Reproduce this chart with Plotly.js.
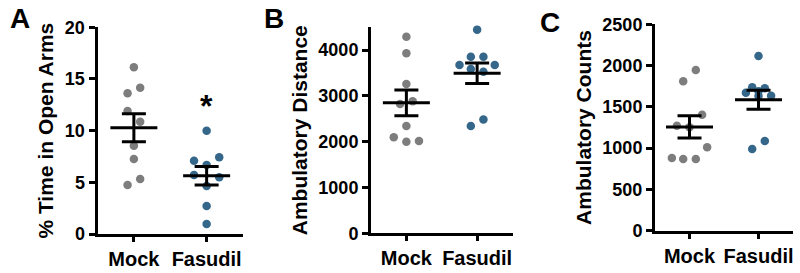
<!DOCTYPE html>
<html>
<head>
<meta charset="utf-8">
<script src="https://cdn.plot.ly/plotly-3.0.1.min.js"></script>
<style>html,body{margin:0;padding:0;background:#fff;}#chart{width:800px;height:273px;}</style>
</head>
<body>
<div id="chart"></div>
<script>
// ---------- data ----------
const groups = ['Mock', 'Fasudil'];

// Panel A: % Time in Open Arms
const openArmsMock    = [16.13, 14.16, 13.61, 11.90, 10.87, 8.54, 7.26, 5.32, 4.74];
const openArmsFasudil = [10.00, 7.42, 7.09, 6.68, 5.71, 5.49, 4.64, 2.71, 0.97];
// Panel B: Ambulatory Distance
const distanceMock    = [4293, 3930, 3260, 2823, 2882, 2343, 2096, 2000, 2015];
const distanceFasudil = [4447, 3856, 3856, 3675, 3675, 3587, 3528, 2486, 2342];
// Panel C: Ambulatory Counts
const countsMock      = [1946, 1810, 1405, 1272, 1252, 1010, 881, 868, 868];
const countsFasudil   = [2116, 1737, 1725, 1690, 1672, 1635, 1632, 1087, 990];

// horizontal scatter column of each dot (in dot-width steps), as in the picture
const openArmsMockCols    = [0, 1, -1, -1, 1, 0, 0, 1, -1];
const openArmsFasudilCols = [0, 2, -2, 0, -2, 2, 0, 0, 0];
const distanceMockCols    = [0, 0, 0, -1, 1, 0, -2, 0, 2];
const distanceFasudilCols = [0, -1, 1, -2.8, 2.8, -1, 1, 1, -1];
const countsMockCols      = [1, -1, 2, -2, 0, 2.8, -2.8, -1, 1];
const countsFasudilCols   = [0, -1, 1, 0, -2, 2, 0, 1, -1];

const yTitles = ['% Time in Open Arms', 'Ambulatory Distance', 'Ambulatory Counts'];
const panelLetters = ['A', 'B', 'C'];
const yTicksA = [0, 5, 10, 15, 20];
const yTicksB = [0, 1000, 2000, 3000, 4000];
const yTicksC = [0, 500, 1000, 1500, 2000, 2500];

// ---------- styling / layout ----------
const W = 800, H = 273;
const FONT = 'Liberation Sans, Arial, sans-serif';
const GREY = '#7d7d7d', BLUE = '#35678b';
const STEP_PX = 6.3, MEAN_HALF_PX = 23.5, CAP_HALF_PX = 12;

const panels = [
  {mock: openArmsMock, fas: openArmsFasudil, mc: openArmsMockCols, fc: openArmsFasudilCols,
   xd: [97.5, 243], yd: [234, 27.3], yr: [0, 20], ticks: yTicksA},
  {mock: distanceMock, fas: distanceFasudil, mc: distanceMockCols, fc: distanceFasudilCols,
   xd: [371, 512.5], yd: [233.3, 27.2], yr: [0, 4500], ticks: yTicksB},
  {mock: countsMock, fas: countsFasudil, mc: countsMockCols, fc: countsFasudilCols,
   xd: [655, 793], yd: [230.7, 24.3], yr: [0, 2500], ticks: yTicksC}
];
const XR = [-0.5, 1.5];

function mean(a){ return a.reduce((s,v)=>s+v,0)/a.length; }
function sem(a){ const m = mean(a); const v = a.reduce((s,x)=>s+(x-m)*(x-m),0)/(a.length-1); return Math.sqrt(v/a.length); }

const traces = [];
const layout = {
  width: W, height: H, margin: {l:0, r:0, t:0, b:0},
  paper_bgcolor: '#fff', plot_bgcolor: '#fff', showlegend: false,
  font: {family: FONT, color: '#000', weight: 'bold'},
  annotations: []
};

panels.forEach((p, i) => {
  const n = i === 0 ? '' : String(i + 1);
  const xa = 'x' + n, ya = 'y' + n;
  const pxPerUnit = (p.xd[1] - p.xd[0]) / (XR[1] - XR[0]);
  const stepU = STEP_PX / pxPerUnit;
  [[p.mock, p.mc, GREY, 0], [p.fas, p.fc, BLUE, 1]].forEach(([vals, cols, color, gi]) => {
    traces.push({
      type: 'scatter', mode: 'markers', xaxis: xa, yaxis: ya,
      x: vals.map((v, k) => gi + cols[k] * stepU), y: vals,
      marker: {color: color, size: 8.5, line: {width: 0}}, hoverinfo: 'y', cliponaxis: false
    });
  });
  [p.mock, p.fas].forEach((vals, gi) => {
    const m = mean(vals), s = sem(vals);
    const mh = MEAN_HALF_PX / pxPerUnit, ch = CAP_HALF_PX / pxPerUnit;
    traces.push({
      type: 'scatter', mode: 'lines', xaxis: xa, yaxis: ya,
      x: [gi - mh, gi + mh, null, gi, gi, null, gi - ch, gi + ch, null, gi - ch, gi + ch],
      y: [m, m, null, m - s, m + s, null, m + s, m + s, null, m - s, m - s],
      line: {color: '#000', width: 3}, hoverinfo: 'skip', cliponaxis: false
    });
  });
  layout['xaxis' + n] = {
    domain: [p.xd[0] / W, p.xd[1] / W], range: XR, anchor: ya,
    showgrid: false, zeroline: false, showline: true, linecolor: '#000', linewidth: 3,
    tickmode: 'array', tickvals: [0, 1], ticktext: groups,
    ticks: 'outside', ticklen: 5, tickwidth: 3, tickcolor: '#000',
    tickfont: {family: FONT, size: 20, weight: 'bold', color: '#000'}, fixedrange: true
  };
  layout['yaxis' + n] = {
    domain: [(H - p.yd[0]) / H, (H - p.yd[1]) / H], range: p.yr, anchor: xa,
    showgrid: false, zeroline: false, showline: true, linecolor: '#000', linewidth: 3,
    tickmode: 'array', tickvals: p.ticks,
    ticks: 'outside', ticklen: 6, tickwidth: 3, tickcolor: '#000',
    tickfont: {family: FONT, size: 18, weight: 'bold', color: '#000'},
    title: {text: yTitles[i], font: {family: FONT, size: 21, weight: 'bold', color: '#000'}, standoff: 6},
    fixedrange: true
  };
});

// significance marker on panel A
layout.annotations.push({xref: 'x', yref: 'y', x: 1, y: 12.4, text: '*', showarrow: false,
  font: {family: FONT, size: 32, weight: 'bold', color: '#000'}, xanchor: 'center', yanchor: 'middle'});
// panel letters
[[19.5, 19], [274, 19], [550, 22.5]].forEach((pos, i) => {
  layout.annotations.push({xref: 'paper', yref: 'paper', x: pos[0] / W, y: 1 - pos[1] / H,
    text: panelLetters[i], showarrow: false, xanchor: 'center', yanchor: 'middle',
    font: {family: FONT, size: 28, weight: 'bold', color: '#000'}});
});

Plotly.newPlot('chart', traces, layout, {displayModeBar: false, staticPlot: true});
</script>
</body>
</html>
